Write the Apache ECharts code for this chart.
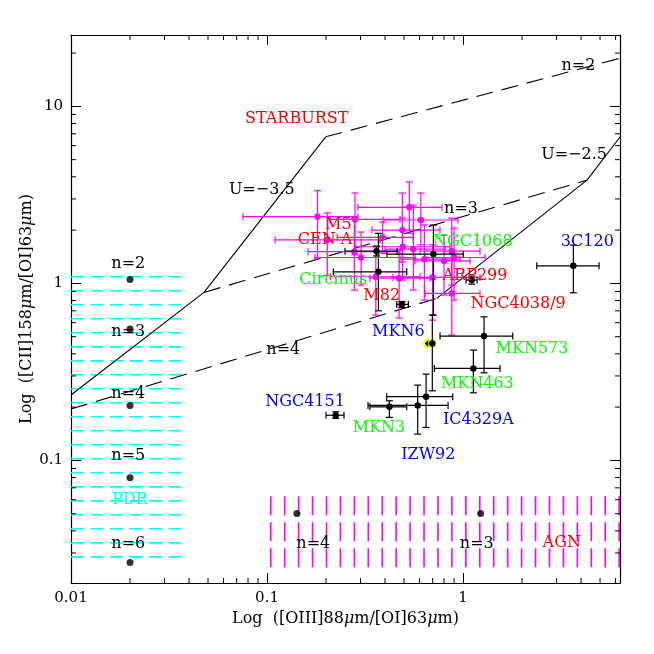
<!DOCTYPE html>
<html><head><meta charset="utf-8">
<script src="https://cdn.jsdelivr.net/npm/echarts@6/dist/echarts.min.js"></script>
<style>html,body{margin:0;padding:0;background:#fff}#c{width:654px;height:654px}</style>
</head><body><div id="c"></div>
<script>
// ---------- axes ----------
const xMin = 0.01, xMax = 6.32;
const yMin = 0.0203, yMax = 25.3;
const xTickVals = [0.01, 0.1, 1];
const xTickLabels = ['0.01', '0.1', '1'];
const yTickVals = [0.1, 1, 10];
const yTickLabels = ['0.1', '1', '10'];
const xMinorTicks = [0.02,0.03,0.04,0.05,0.06,0.07,0.08,0.09,0.2,0.3,0.4,0.5,0.6,0.7,0.8,0.9,2,3,4,5,6];
const yMinorTicks = [0.03,0.04,0.05,0.06,0.07,0.08,0.09,0.2,0.3,0.4,0.5,0.6,0.7,0.8,0.9,2,3,4,5,6,7,8,9,20];

// ---------- model curves ----------
const u35Line = [[0.01,0.234],[0.0477,0.889],[0.1993,6.73]];
const n2Line  = [[0.1993,6.73],[6.32,18.7]];
const n3Line  = [[0.0477,0.889],[4.29,3.83]];
const u25Line = [[0.734,0.823],[4.29,3.83],[6.32,6.71]];
const n4Line  = [[0.01,0.195],[0.734,0.823]];

// ---------- starburst (magenta) points ----------
const magX   = [0.181,0.281,0.532,0.609,0.203,0.389,0.490,0.279,0.302,0.359,0.472,0.492,0.558,0.635,0.700,0.800,0.876,0.900,0.876];
const magY   = [2.38,2.30,2.69,2.28,1.76,1.82,2.00,1.51,1.40,1.09,1.07,1.61,1.56,1.37,1.08,1.34,1.52,1.40,0.878];
const magXLo = [0.0754,0.210,0.291,0.391,0.110,0.228,0.343,0.162,0.176,0.210,0.335,0.281,0.400,0.477,0.439,0.569,0.604,0.640,0.640];
const magXHi = [0.291,0.477,0.781,0.943,0.377,0.556,0.763,0.477,0.569,0.604,0.679,0.858,0.810,0.965,1.221,1.086,1.221,1.295,1.221];
const magYLo = [1.39,1.45,1.92,1.65,1.11,1.48,1.32,0.917,0.978,0.662,0.637,1.044,0.917,0.805,0.620,0.859,0.978,0.805,0.510];
const magYHi = [3.34,3.24,3.74,3.24,2.50,2.22,3.24,2.34,1.95,1.61,1.54,2.34,2.77,2.14,1.65,1.87,2.34,2.05,1.35];

// ---------- galaxies (black) ----------
const blkNames = ['M5x','Circinus','M82','NGC1068','ARP299','3C120','MKN6','MKN573','MKN463','IC4329A','IZW92','MKN3','NGC4151'];
const blkX   = [0.362,0.370,0.488,0.706,1.108,3.654,0.697,1.280,1.129,0.648,0.587,0.421,0.224];
const blkY   = [1.52,1.163,0.761,1.464,1.044,1.257,0.458,0.504,0.331,0.229,0.2045,0.2008,0.180];
const blkXLo = [0.250,0.218,0.459,0.409,1.036,2.377,0.697,0.763,0.714,0.408,0.3275,0.335,0.200];
const blkXHi = [0.461,0.516,0.526,1.003,1.179,4.942,0.697,1.793,1.545,0.886,0.8386,0.516,0.247];
const blkYLo = [1.43,0.700,0.73,0.662,0.99,0.885,0.2473,0.3125,0.2409,0.1536,0.1408,0.175,0.1727];
const blkYHi = [1.625,1.917,0.79,2.135,1.10,1.646,0.662,0.6477,0.420,0.3073,0.2663,0.2172,0.1882];
const limitX = [0.697];   // MKN6 upper limit in x
const limitY = [0.458];

// ---------- model grid dots ----------
const pdrDotX = [0.02,0.02,0.02,0.02,0.02];
const pdrDotY = [1.053,0.552,0.2045,0.0797,0.0265];
const agnDotX = [0.142,1.23];
const agnDotY = [0.0502,0.0502];

// ---------- PDR / AGN hatched regions ----------
const pdrLineX = [0.01, 0.0397];
const pdrLineY = [1.090,0.908,0.757,0.631,0.526,0.438,0.365,0.3045,0.2538,0.2115,0.1763,0.1470,0.1225,0.1021,0.0851,0.0709,0.0591,0.0493,0.0411,0.0342,0.0285];
const agnLineX = [0.1045,0.1231,0.1449,0.1707,0.2011,0.2368,0.2790,0.3286,0.3871,0.4559,0.5370,0.6325,0.7449,0.8774,1.0337,1.2175,1.4341,1.6891,1.9897,2.3435,2.7606,3.2515,3.8300,4.5112,5.3138,6.2591];
const agnLineY = [0.02495, 0.0628];

// ---------- annotations ----------
const labelText = ['STARBURST','U=\u22123.5','n=2','U=\u22122.5','n=3','M5','CEN A','NGC1068','3C120','Circinus','ARP299','M82','NGC4038/9','MKN6','MKN573','MKN463','NGC4151','MKN3','IC4329A','IZW92','PDR','n=2','n=3','n=4','n=5','n=6','n=4','n=4','n=3','AGN'];
const labelX = [0.1417,0.0940,3.876,3.685,0.9768,0.2311,0.1977,1.121,4.307,0.2179,1.151,0.3847,1.909,0.4676,2.249,1.183,0.1563,0.3728,1.197,0.6653,0.02,0.0196,0.0196,0.0196,0.0196,0.0196,0.1211,0.1722,1.175,3.189];
const labelY = [8.477,3.366,16.89,5.307,2.653,2.135,1.773,1.718,1.718,1.044,1.100,0.848,0.764,0.5329,0.4254,0.2723,0.2144,0.1528,0.1689,0.1071,0.0602,1.285,0.533,0.2369,0.1062,0.0337,0.42,0.0337,0.0337,0.0342];
const RED='#ff0000', GRN='#00ff00', BLU='#0000ff', CYA='#00ffff', BLK='#000000', MAG='#ff00ff', YEL='#ffff00';
const labelColor = [RED,BLK,BLK,BLK,BLK,RED,RED,GRN,BLU,GRN,RED,RED,RED,BLU,GRN,GRN,BLU,GRN,BLU,BLU,CYA,BLK,BLK,BLK,BLK,BLK,BLK,BLK,BLK,RED];

const FONT = '"DejaVu Serif", "Liberation Serif", serif';

function tickFmt(vals, labels) {
  return function (v) {
    for (let i = 0; i < vals.length; i++) {
      if (Math.abs(Math.log10(v) - Math.log10(vals[i])) < 1e-6) return labels[i];
    }
    return '';
  };
}

function lineSeries(data, dashed) {
  return {type:'line', data: data, xAxisIndex:0, yAxisIndex:0, symbol:'none', silent:true,
    animation:false, z:3, lineStyle:{color:'#000', width:1.1, type: dashed ? [17,9] : 'solid'}};
}

function errBarSeries(xs, ys, xlo, xhi, ylo, yhi, color, z) {
  const data = xs.map((x,i)=>[x, ys[i], xlo[i], xhi[i], ylo[i], yhi[i]]);
  return {type:'custom', data: data, xAxisIndex:0, yAxisIndex:0, encode:{x:[0,2,3], y:[1,4,5]},
    z: z, silent:true, animation:false, clip:false,
    renderItem: function (params, api) {
      const x = api.value(0), y = api.value(1);
      const p = api.coord([x, y]);
      const xl = api.coord([api.value(2), y])[0], xh = api.coord([api.value(3), y])[0];
      const yl = api.coord([x, api.value(4)])[1], yh = api.coord([x, api.value(5)])[1];
      const st = {stroke: color, lineWidth: 1.2};
      const cap = 3.5;
      const ch = [];
      if (Math.abs(xh - xl) > 1) {
        ch.push({type:'line', shape:{x1:xl,y1:p[1],x2:xh,y2:p[1]}, style:st});
        ch.push({type:'line', shape:{x1:xl,y1:p[1]-cap,x2:xl,y2:p[1]+cap}, style:st});
        ch.push({type:'line', shape:{x1:xh,y1:p[1]-cap,x2:xh,y2:p[1]+cap}, style:st});
      }
      if (Math.abs(yl - yh) > 1) {
        ch.push({type:'line', shape:{x1:p[0],y1:yl,x2:p[0],y2:yh}, style:st});
        ch.push({type:'line', shape:{x1:p[0]-cap,y1:yl,x2:p[0]+cap,y2:yl}, style:st});
        ch.push({type:'line', shape:{x1:p[0]-cap,y1:yh,x2:p[0]+cap,y2:yh}, style:st});
      }
      ch.push({type:'circle', shape:{cx:p[0], cy:p[1], r:3.2}, style:{fill: color}});
      return {type:'group', children: ch};
    }};
}

const series = [];

// PDR hatch
series.push({type:'custom', xAxisIndex:0, yAxisIndex:0, silent:true, animation:false, clip:false, z:1,
  data: pdrLineY.map(y => [pdrLineX[0], y, pdrLineX[1]]),
  encode:{x:[0,2], y:1},
  renderItem: function (params, api) {
    const a = api.coord([api.value(0), api.value(1)]);
    const b = api.coord([api.value(2), api.value(1)]);
    return {type:'line', shape:{x1:a[0], y1:a[1], x2:b[0], y2:b[1]},
      style:{stroke: CYA, lineWidth: 1.6, lineDash:[13,6.5]}};
  }});
// AGN hatch
series.push({type:'custom', xAxisIndex:0, yAxisIndex:0, silent:true, animation:false, clip:false, z:1,
  data: agnLineX.map(x => [x, agnLineY[1], agnLineY[0]]),
  encode:{x:0, y:[1,2]},
  renderItem: function (params, api) {
    const a = api.coord([api.value(0), api.value(1)]);
    const b = api.coord([api.value(0), api.value(2)]);
    return {type:'line', shape:{x1:a[0], y1:a[1], x2:b[0], y2:b[1]},
      style:{stroke: MAG, lineWidth: 1.6, lineDash:[19,7]}};
  }});

// model curves
series.push(lineSeries(u35Line, false));
series.push(lineSeries(n2Line, true));
series.push(lineSeries(n3Line, true));
series.push(lineSeries(u25Line, false));
series.push(lineSeries(n4Line, true));

// data points
series.push(errBarSeries(magX, magY, magXLo, magXHi, magYLo, magYHi, MAG, 4));
// MKN6 upper limit marker
series.push({type:'custom', xAxisIndex:0, yAxisIndex:0, silent:true, animation:false, clip:false, z:5,
  data: limitX.map((x,i)=>[x, limitY[i]]),
  renderItem: function (params, api) {
    const p = api.coord([api.value(0), api.value(1)]);
    const st = {stroke: YEL, lineWidth: 2};
    return {type:'group', children:[
      {type:'circle', shape:{cx:p[0], cy:p[1], r:4.5}, style:{fill: YEL}},
      {type:'line', shape:{x1:p[0]-9, y1:p[1], x2:p[0], y2:p[1]}, style:st},
      {type:'polyline', shape:{points:[[p[0]-4,p[1]-5],[p[0]-9,p[1]],[p[0]-4,p[1]+5]]}, style:st}
    ]};
  }});
series.push(errBarSeries(blkX, blkY, blkXLo, blkXHi, blkYLo, blkYHi, BLK, 6));

// model grid dots
series.push({type:'scatter', data: pdrDotX.map((x,i)=>[x, pdrDotY[i]]), symbolSize:7, silent:true,
  animation:false, itemStyle:{color:'#000'}, z:6});
series.push({type:'scatter', data: agnDotX.map((x,i)=>[x, agnDotY[i]]), symbolSize:7, silent:true,
  animation:false, itemStyle:{color:'#000'}, z:6});

// minor ticks (2..9 per decade) on all four sides
series.push({type:'custom', xAxisIndex:0, yAxisIndex:0, silent:true, animation:false, clip:false, z:8,
  data: xMinorTicks.map(v => [v, yMin]),
  renderItem: function (params, api) {
    const cs = params.coordSys;
    const px = api.coord([api.value(0), api.value(1)])[0];
    const st = {stroke:'#000', lineWidth:1};
    return {type:'group', children:[
      {type:'line', shape:{x1:px, y1:cs.y+cs.height, x2:px, y2:cs.y+cs.height-5}, style:st},
      {type:'line', shape:{x1:px, y1:cs.y, x2:px, y2:cs.y+5}, style:st}
    ]};
  }});
series.push({type:'custom', xAxisIndex:0, yAxisIndex:0, silent:true, animation:false, clip:false, z:8,
  data: yMinorTicks.map(v => [xMin, v]),
  renderItem: function (params, api) {
    const cs = params.coordSys;
    const py = api.coord([api.value(0), api.value(1)])[1];
    const st = {stroke:'#000', lineWidth:1};
    return {type:'group', children:[
      {type:'line', shape:{x1:cs.x, y1:py, x2:cs.x+5, y2:py}, style:st},
      {type:'line', shape:{x1:cs.x+cs.width, y1:py, x2:cs.x+cs.width-5, y2:py}, style:st}
    ]};
  }});

// annotations
series.push({type:'custom', xAxisIndex:0, yAxisIndex:0, silent:true, animation:false, clip:false, z:10,
  data: labelText.map((t,i)=>[labelX[i], labelY[i], i]),
  renderItem: function (params, api) {
    const i = api.value(2);
    const p = api.coord([api.value(0), api.value(1)]);
    return {type:'text', x:p[0], y:p[1], style:{text: labelText[i], fill: labelColor[i],
      font: '16px ' + FONT, align:'center', verticalAlign:'middle'}};
  }});

const axisCommon = {
  axisLine:{show:true, onZero:false, lineStyle:{color:'#000', width:1.2}},
  axisTick:{show:true, inside:true, length:10, lineStyle:{color:'#000', width:1}},
  splitLine:{show:false}, minorTick:{show:false}
};
const rich = {i:{fontStyle:'italic', fontFamily: FONT, fontSize:16, color:'#000'}};

const option = {
  animation:false,
  backgroundColor:'#fff',
  grid:{left:71, right:34, top:35, bottom:71, containLabel:false},
  xAxis:[
    Object.assign({type:'log', logBase:10, min:xMin, max:xMax, position:'bottom',
      axisLabel:{show:true, fontFamily:FONT, fontSize:15, color:'#000', margin:8,
        showMinLabel:true, showMaxLabel:false, formatter: tickFmt(xTickVals, xTickLabels)},
      name:'Log  ([OIII]88{i|\u03bc}m/[OI]63{i|\u03bc}m)', nameLocation:'middle', nameGap:23,
      nameTextStyle:{fontFamily:FONT, fontSize:16, color:'#000', rich: rich}}, axisCommon),
    Object.assign({type:'log', logBase:10, min:xMin, max:xMax, position:'top',
      axisLabel:{show:false}}, axisCommon)
  ],
  yAxis:[
    Object.assign({type:'log', logBase:10, min:yMin, max:yMax, position:'left',
      axisLabel:{show:true, fontFamily:FONT, fontSize:15, color:'#000', margin:8,
        showMinLabel:false, showMaxLabel:false, formatter: tickFmt(yTickVals, yTickLabels)},
      name:'Log  ([CII]158{i|\u03bc}m/[OI]63{i|\u03bc}m)', nameLocation:'middle', nameGap:44,
      nameMoveOverlap:false, nameRotate:90,
      nameTextStyle:{fontFamily:FONT, fontSize:16, color:'#000', rich: rich, verticalAlign:'middle'}}, axisCommon),
    Object.assign({type:'log', logBase:10, min:yMin, max:yMax, position:'right',
      axisLabel:{show:false}}, axisCommon)
  ],
  series: series
};

const chart = echarts.init(document.getElementById('c'), null, {renderer:'canvas'});
chart.setOption(option);
</script>
</body></html>
